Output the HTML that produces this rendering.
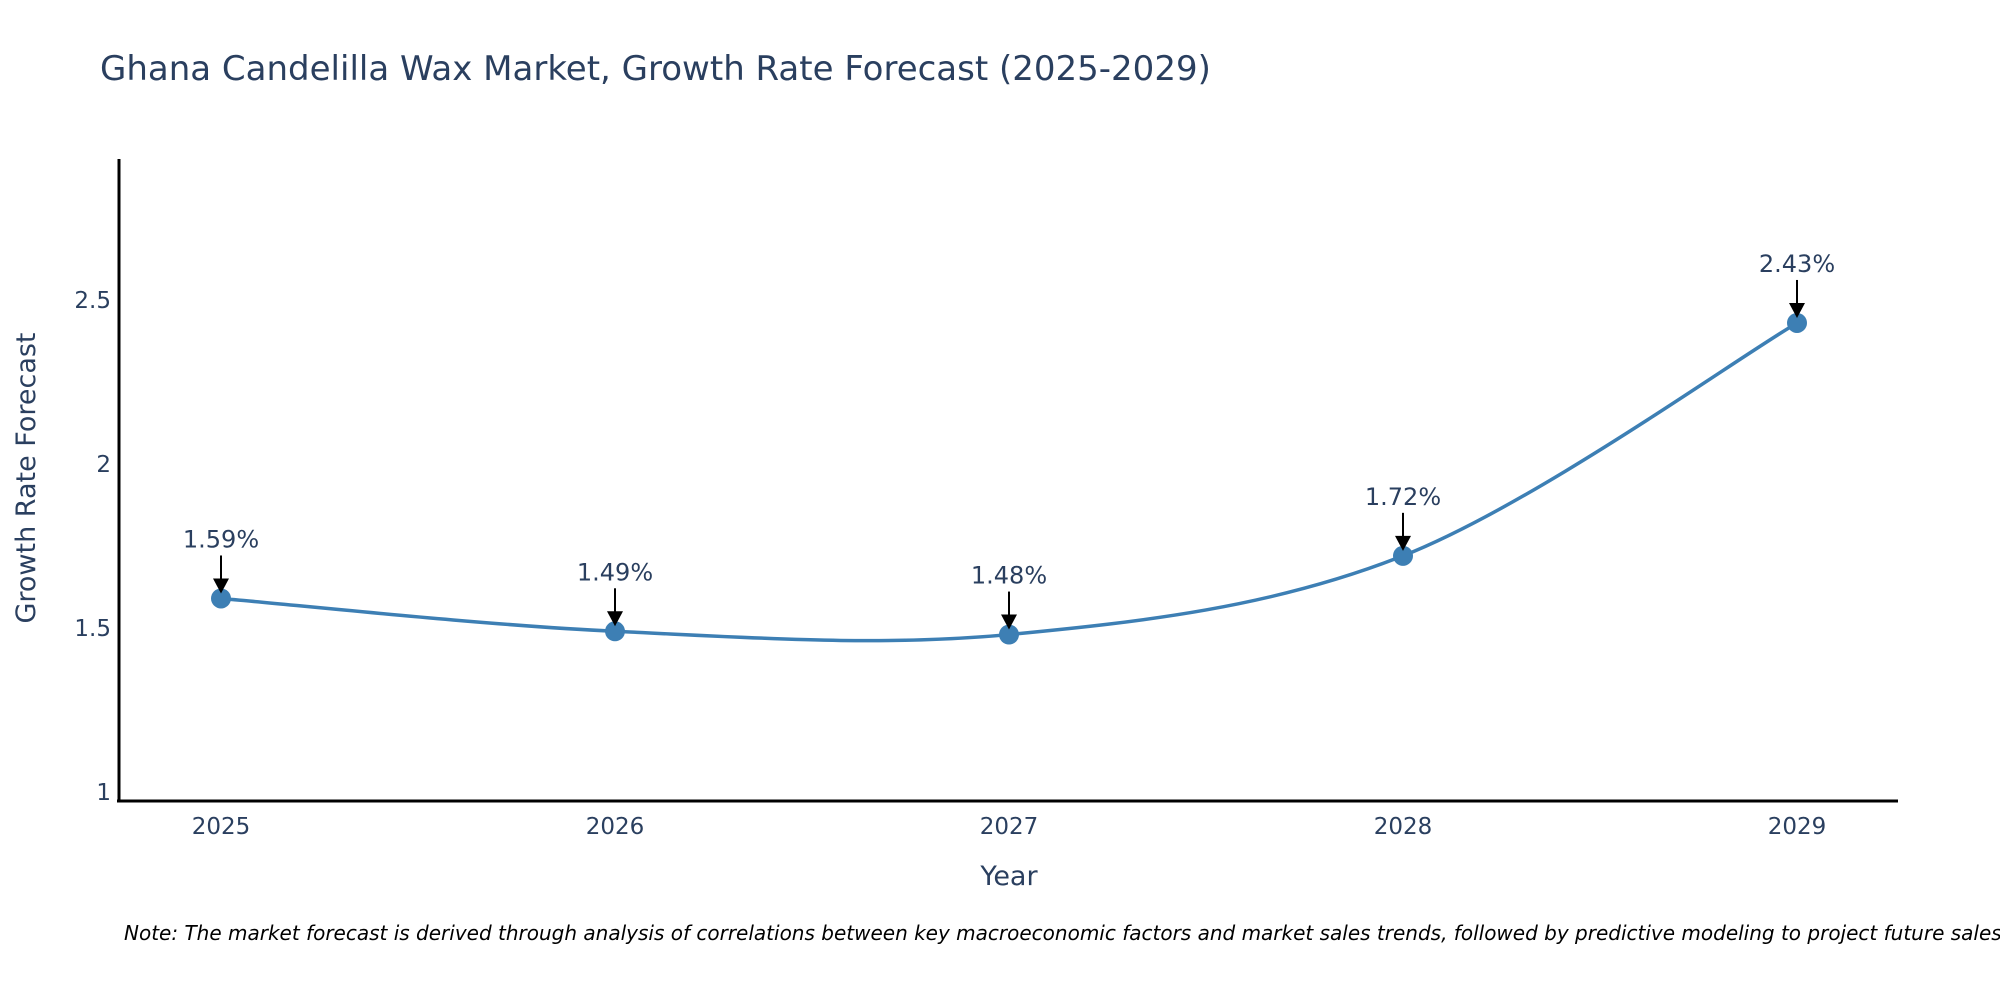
<!DOCTYPE html>
<html><head><meta charset="utf-8"><style>
body{margin:0;background:#fff;font-family:"DejaVu Sans",sans-serif}
</style></head><body>
<svg width="2000" height="1000" xmlns="http://www.w3.org/2000/svg" style="font-family:'DejaVu Sans',sans-serif">
<text x="100" y="80" font-size="34" fill="#2a3f5f">Ghana Candelilla Wax Market, Growth Rate Forecast (2025-2029)</text>
<g id="yticks"></g>
<g id="xticks"></g>
<line x1="119" y1="159" x2="119" y2="802" stroke="#000" stroke-width="3"/>
<line x1="117" y1="801" x2="1898" y2="801" stroke="#000" stroke-width="3"/>
<text x="1009" y="885" font-size="27" fill="#2a3f5f" text-anchor="middle">Year</text>
<text transform="translate(35,478) rotate(-90)" font-size="27" fill="#2a3f5f" text-anchor="middle">Growth Rate Forecast</text>
<path id="line" fill="none" stroke="#3d7fb4" stroke-width="3.5"/>
<g id="marks"></g>
<g id="annots"></g>
<text x="124" y="940" font-size="20" font-style="italic" fill="#000">Note: The market forecast is derived through analysis of correlations between key macroeconomic factors and market sales trends, followed by predictive modeling to project future sales.</text>
</svg>
<script>
const years=[2025,2026,2027,2028,2029];
const values=[1.59,1.49,1.48,1.72,2.43];
const labels=["1.59%","1.49%","1.48%","1.72%","2.43%"];
const yTicks=[1,1.5,2,2.5];
const NS="http://www.w3.org/2000/svg";
function xs(i){return 221+(i-2025)*394;}
function ys(v){return 792-(v-1)*328;}
function mk(t,a,p){const e=document.createElementNS(NS,t);for(const k in a)e.setAttribute(k,a[k]);p.appendChild(e);return e;}
const yt=document.getElementById('yticks');
yTicks.forEach(v=>{const t=mk('text',{x:111,y:ys(v)+8,'font-size':23,fill:'#2a3f5f','text-anchor':'end'},yt);t.textContent=String(v);

});
const xt=document.getElementById('xticks');
years.forEach(y=>{const t=mk('text',{x:xs(y),y:834,'font-size':23,fill:'#2a3f5f','text-anchor':'middle'},xt);t.textContent=String(y);

});
const P=years.map((y,i)=>[xs(y),ys(values[i])]);
let d="M"+P[0][0]+","+P[0][1];const s=0.5;
for(let i=0;i<P.length-1;i++){const p0=P[Math.max(0,i-1)],p1=P[i],p2=P[i+1],p3=P[Math.min(P.length-1,i+2)];
const c1=[p1[0]+(p2[0]-p0[0])*s/3,p1[1]+(p2[1]-p0[1])*s/3],c2=[p2[0]-(p3[0]-p1[0])*s/3,p2[1]-(p3[1]-p1[1])*s/3];
d+=` C${c1[0]},${c1[1]} ${c2[0]},${c2[1]} ${p2[0]},${p2[1]}`;}
document.getElementById('line').setAttribute('d',d);
const mg=document.getElementById('marks'),ag=document.getElementById('annots');
P.forEach((p,i)=>{const c=mk('circle',{cx:p[0],cy:p[1],r:10,fill:'#3d7fb4'},mg);


const l=mk('line',{x1:p[0],y1:p[1]-43,x2:p[0],y2:p[1]-18,stroke:'#000','stroke-width':2},ag);


const h=mk('polygon',{points:`${p[0]-8},${p[1]-20} ${p[0]+8},${p[1]-20} ${p[0]},${p[1]-5}`,fill:'#000'},ag);


const t=mk('text',{x:p[0],y:p[1]-51,'font-size':24,fill:'#2a3f5f','text-anchor':'middle'},ag);t.textContent=labels[i];

});
</script>
</body></html>
